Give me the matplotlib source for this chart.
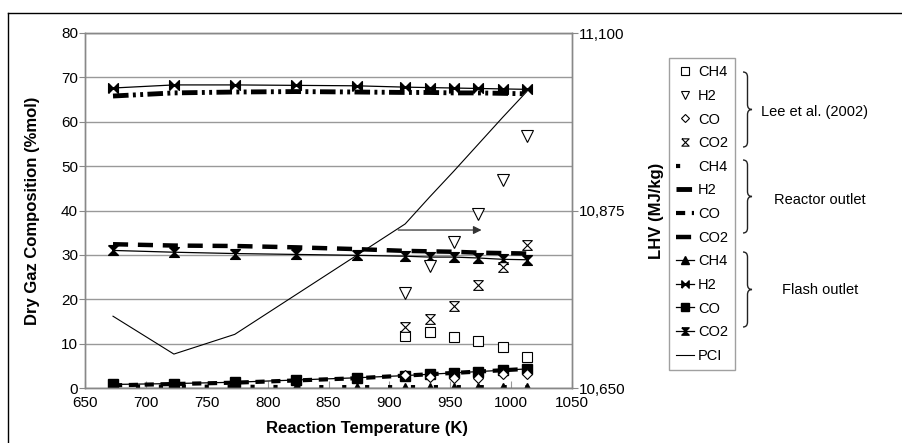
import matplotlib
matplotlib.use("Agg")
import matplotlib.pyplot as plt
from matplotlib.path import Path
from matplotlib.patches import PathPatch
from matplotlib.lines import Line2D
from matplotlib.ticker import FuncFormatter

plt.rcParams['font.family'] = ['Liberation Sans', 'DejaVu Sans']

# reaction temperatures (K)
temps = [673, 723, 773, 823, 873, 913, 933, 953, 973, 993, 1013]
lee_temps = [913, 933, 953, 973, 993, 1013]

# Lee et al. (2002) experimental data (%mol)
lee_ch4 = [11.7, 12.6, 11.6, 10.6, 9.2, 7.0]
lee_h2 = [21.4, 27.4, 32.9, 39.3, 46.9, 56.7]
lee_co = [2.9, 2.5, 2.3, 2.3, 3.2, 3.2]
lee_co2 = [13.7, 15.5, 18.4, 23.3, 27.3, 32.2]

# reactor outlet (%mol)
reac_ch4 = [0.3, 0.3, 0.3, 0.2, 0.2, 0.2, 0.2, 0.2, 0.2, 0.2, 0.2]
reac_h2 = [65.8, 66.5, 66.7, 66.8, 66.7, 66.6, 66.6, 66.5, 66.5, 66.4, 66.3]
reac_co = [0.6, 0.9, 1.2, 1.7, 2.2, 2.8, 3.1, 3.4, 3.7, 4.0, 4.3]
reac_co2 = [32.4, 32.1, 32.0, 31.7, 31.3, 30.9, 30.8, 30.7, 30.5, 30.4, 30.3]

# flash outlet (%mol)
flash_ch4 = [0.1, 0.1, 0.1, 0.1, 0.1, 0.1, 0.1, 0.1, 0.1, 0.1, 0.1]
flash_h2 = [67.6, 68.3, 68.3, 68.2, 68.1, 67.8, 67.7, 67.6, 67.5, 67.4, 67.3]
flash_co = [0.8, 1.0, 1.3, 1.8, 2.3, 2.8, 3.1, 3.4, 3.7, 4.0, 4.3]
flash_co2 = [31.0, 30.6, 30.3, 30.1, 29.9, 29.7, 29.5, 29.5, 29.3, 29.0, 28.9]

# lower heating value (MJ/kg)
pci = [10741, 10693, 10718, 10768, 10818, 10858, 10892, 10925, 10959, 10993, 11026]

W, H = 903, 443
fig = plt.figure(figsize=(W / 100, H / 100), dpi=100)
ax = fig.add_axes([85 / W, 1 - 388 / H, (572 - 85) / W, (388 - 33) / H])
ax2 = ax.twinx()

# custom markers
bowtie_h = Path([(-1, -1), (-1, 1), (1, -1), (1, 1), (-1, -1)])
hourglass = Path([(-1, 1), (1, 1), (-1, -1), (1, -1), (-1, 1)])

k = 'black'
h_r_ch4, = ax.plot(temps, reac_ch4, color=k, lw=3, dashes=(1, 4.5))
h_r_h2, = ax.plot(temps, reac_h2, color=k, lw=3.5, dashes=(3.2, 0.9, 0.6, 0.9, 0.6, 0.9))
h_r_co, = ax.plot(temps, reac_co, color=k, lw=3, dashes=(2.2, 1.6))
h_r_co2, = ax.plot(temps, reac_co2, color=k, lw=3.2, dashes=(3.4, 2.2))

h_f_ch4, = ax.plot(temps, flash_ch4, color=k, lw=0.9, marker='^', ms=7.5)
h_f_h2, = ax.plot(temps, flash_h2, color=k, lw=0.9, marker=bowtie_h, ms=7)
h_f_co, = ax.plot(temps, flash_co, color=k, lw=0.9, marker='s', ms=7)
h_f_co2, = ax.plot(temps, flash_co2, color=k, lw=0.9, marker=hourglass, ms=7)

h_lee_ch4, = ax.plot(lee_temps, lee_ch4, ls='none', marker='s', ms=7.5, mfc='white', mec=k, mew=0.8, zorder=4)
h_lee_h2, = ax.plot(lee_temps, lee_h2, ls='none', marker='v', ms=8, mfc='white', mec=k, mew=0.8, zorder=4)
h_lee_co, = ax.plot(lee_temps, lee_co, ls='none', marker='D', ms=5.5, mfc='white', mec=k, mew=0.8, zorder=4)
h_lee_co2, = ax.plot(lee_temps, lee_co2, ls='none', marker=hourglass, ms=7, mfc='white', mec=k, mew=0.8, zorder=4)

h_pci, = ax2.plot(temps, pci, color=k, lw=0.8)

# arrow pointing to LHV axis
ax.annotate('', xy=(978, 35.6), xytext=(905, 35.6),
            arrowprops=dict(arrowstyle='-|>', color='#333333', lw=0.9, mutation_scale=12))

ax.set_xlim(650, 1050)
ax.set_ylim(0, 80)
ax.set_xticks(range(650, 1051, 50))
ax.set_yticks(range(0, 81, 10))
ax.yaxis.grid(True, color='#999999', lw=1)
ax.set_axisbelow(True)
ax2.set_ylim(10650, 11100)
ax2.set_yticks([10650, 10875, 11100])
ax2.yaxis.set_major_formatter(FuncFormatter(lambda v, p: f'{int(v):,}'))

for a in (ax, ax2):
    for s in a.spines.values():
        s.set_color('#888888')
        s.set_linewidth(1)
ax.tick_params(axis='x', direction='in', length=5, color='#999999', labelsize=11, pad=6)
ax.tick_params(axis='y', direction='out', length=4, color='#888888', labelsize=11, pad=1)
ax2.tick_params(axis='y', direction='out', length=4, color='#888888', labelsize=11, pad=1)

ax.set_xlabel('Reaction Temperature (K)', fontsize=12, fontweight='bold')
ax.xaxis.set_label_coords((367 - 85) / (572 - 85), -(421 - 388) / (388 - 33))
ax.set_ylabel('Dry Gaz Composition (%mol)', fontsize=12, fontweight='bold')
ax.yaxis.set_label_coords(-(85 - 40) / (572 - 85), 0.5)
ax2.set_ylabel('LHV (MJ/kg)', fontsize=12, fontweight='bold')
ax2.yaxis.set_label_coords(1 + (649 - 572) / (572 - 85), 0.5)

handles = [h_lee_ch4, h_lee_h2, h_lee_co, h_lee_co2, h_r_ch4, h_r_h2, h_r_co, h_r_co2,
           h_f_ch4, h_f_h2, h_f_co, h_f_co2, h_pci]
labels = ['CH4', 'H2', 'CO', 'CO2'] * 3 + ['PCI']
leg = fig.legend(handles, labels, loc='upper left', bbox_to_anchor=(669 / W, 1 - 58 / H),
                 fontsize=10.5, handlelength=1.2, handletextpad=0.3, labelspacing=0.66,
                 borderpad=0.5, borderaxespad=0, fancybox=False, frameon=True, markerscale=0.75)
leg.get_frame().set_edgecolor('#888888')
leg.get_frame().set_linewidth(1)


def brace(x0, ytop, ybot, w=9):
    # curly brace in pixel coordinates, opening left, tip to the right
    ym = (ytop + ybot) / 2
    xm = x0 + w / 2
    r = 5
    pts = [(x0, ytop), (xm, ytop), (xm, ytop + r),
           (xm, ym - r), (xm, ym), (x0 + w, ym),
           (xm, ym), (xm, ym + r),
           (xm, ybot - r), (xm, ybot), (x0, ybot)]
    codes = [Path.MOVETO, Path.CURVE3, Path.CURVE3,
             Path.LINETO, Path.CURVE3, Path.CURVE3,
             Path.CURVE3, Path.CURVE3,
             Path.LINETO, Path.CURVE3, Path.CURVE3]
    pts = [(x / W, 1 - y / H) for x, y in pts]
    fig.add_artist(PathPatch(Path(pts, codes), fc='none', ec='#222222', lw=1,
                             transform=fig.transFigure))


brace(743, 72, 147)
brace(743, 160, 233)
brace(743, 252, 327)
fig.text(815 / W, 1 - 112 / H, 'Lee et al. (2002)', ha='center', va='center', fontsize=10.5)
fig.text(820 / W, 1 - 200 / H, 'Reactor outlet', ha='center', va='center', fontsize=10.5)
fig.text(820 / W, 1 - 290 / H, 'Flash outlet', ha='center', va='center', fontsize=10.5)

# outer chart frame
fig.add_artist(Line2D([8 / W, 8 / W], [0, 1 - 13 / H], color=k, lw=1, transform=fig.transFigure))
fig.add_artist(Line2D([8 / W, 1], [1 - 13 / H, 1 - 13 / H], color=k, lw=1, transform=fig.transFigure))

fig.savefig('out.png', dpi=100)
